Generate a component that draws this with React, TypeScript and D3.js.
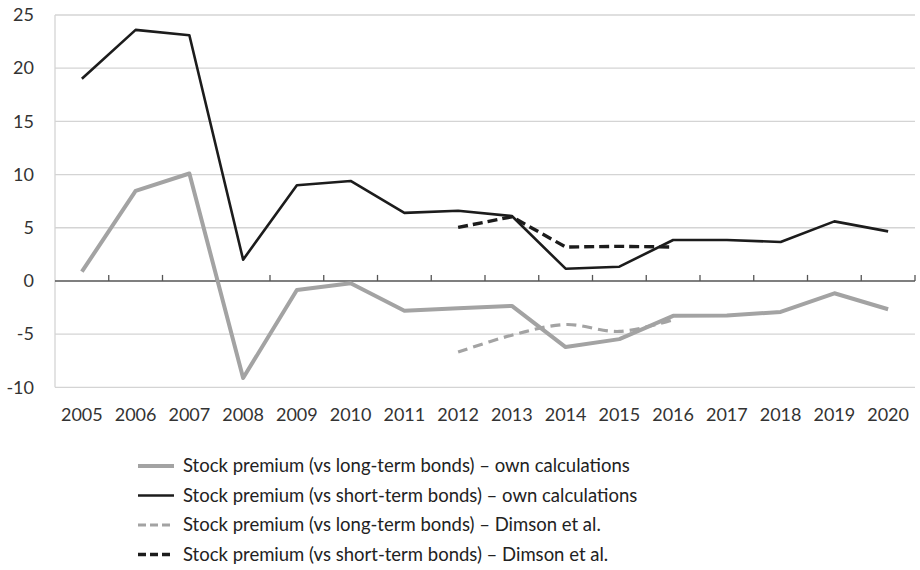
import React, { useEffect, useRef } from "react";
import * as d3 from "d3";

const years = ["2005","2006","2007","2008","2009","2010","2011","2012","2013","2014","2015","2016","2017","2018","2019","2020"];
const longOwn = [0.87, 8.47, 10.1, -9.13, -0.85, -0.22, -2.81, -2.56, -2.35, -6.22, -5.47, -3.28, -3.25, -2.91, -1.16, -2.66];
const shortOwn = [19.0, 23.6, 23.1, 2.0, 9.0, 9.4, 6.4, 6.6, 6.1, 1.15, 1.34, 3.85, 3.85, 3.66, 5.6, 4.66];
const dimsonYears = ["2012","2013","2014","2015","2016"];
const longDimson = [-6.69, -5.1, -4.1, -4.75, -3.66];
const shortDimson = [5.03, 6.03, 3.19, 3.25, 3.19];
const yTicks = [25, 20, 15, 10, 5, 0, -5, -10];
const legendLabels = [
  "Stock premium (vs long-term bonds) – own calculations",
  "Stock premium (vs short-term bonds) – own calculations",
  "Stock premium (vs long-term bonds) – Dimson et al.",
  "Stock premium (vs short-term bonds) – Dimson et al.",
];

const FONT = "Lato, 'Noto Sans', sans-serif";

export default function App() {
  const ref = useRef<SVGSVGElement>(null);
  useEffect(() => {
    const svg = d3.select(ref.current);
    svg.selectAll("*").remove();
    const left = 55, right = 915, top = 15, bottom = 387.3;
    const x = d3.scaleBand<string>().domain(years).range([left, right]).padding(0);
    const y = d3.scaleLinear().domain([-10, 25]).range([bottom, top]);
    const cx = (yr: string) => (x(yr) as number) + x.bandwidth() / 2;

    // gridlines
    svg.append("g").selectAll("line").data(yTicks.filter(t => t !== 0)).join("line")
      .attr("x1", left).attr("x2", right)
      .attr("y1", d => y(d)).attr("y2", d => y(d))
      .attr("stroke", "#d4d4d4").attr("stroke-width", 1.3);
    // left axis line
    svg.append("line").attr("x1", left).attr("x2", left).attr("y1", top).attr("y2", bottom)
      .attr("stroke", "#d4d4d4").attr("stroke-width", 1.3);
    // zero axis
    svg.append("line").attr("x1", left).attr("x2", right).attr("y1", y(0)).attr("y2", y(0))
      .attr("stroke", "#555").attr("stroke-width", 1.4);
    const bounds = years.map(yr => x(yr) as number).concat([right]);
    svg.append("g").selectAll("line").data(bounds.slice(1)).join("line")
      .attr("x1", d => d).attr("x2", d => d)
      .attr("y1", y(0)).attr("y2", y(0) - 6)
      .attr("stroke", "#555").attr("stroke-width", 1.3);

    // y labels
    svg.append("g").selectAll("text").data(yTicks).join("text")
      .attr("x", 34).attr("y", d => y(d)).attr("dy", "0.35em")
      .attr("text-anchor", "end").attr("font-family", FONT).attr("font-size", 18)
      .attr("fill", "#333").text(d => String(d));
    // x labels
    svg.append("g").selectAll("text").data(years).join("text")
      .attr("x", d => cx(d)).attr("y", 415).attr("dy", "0.35em")
      .attr("text-anchor", "middle").attr("font-family", FONT).attr("font-size", 18)
      .attr("fill", "#333").text(d => d);

    const line = d3.line<[string, number]>().x(d => cx(d[0])).y(d => y(d[1]));
    const smooth = d3.line<[string, number]>().x(d => cx(d[0])).y(d => y(d[1])).curve(d3.curveCatmullRom.alpha(0.5));

    const series = [
      { data: years.map((yr, i) => [yr, longOwn[i]] as [string, number]), color: "#a3a3a3", w: 4, dash: null as string | null, gen: line },
      { data: years.map((yr, i) => [yr, shortOwn[i]] as [string, number]), color: "#1c1c1c", w: 2.6, dash: null, gen: line },
      { data: dimsonYears.map((yr, i) => [yr, longDimson[i]] as [string, number]), color: "#a3a3a3", w: 3.2, dash: "10,6", gen: smooth },
      { data: dimsonYears.map((yr, i) => [yr, shortDimson[i]] as [string, number]), color: "#1c1c1c", w: 3.4, dash: "10,5", gen: line },
    ];
    series.forEach(s => {
      const p = svg.append("path").attr("d", s.gen(s.data) as string)
        .attr("fill", "none").attr("stroke", s.color).attr("stroke-width", s.w)
        .attr("stroke-linejoin", "round");
      if (s.dash) p.attr("stroke-dasharray", s.dash);
    });

    // legend
    const ly = [466, 495.5, 525, 554.5];
    series.forEach((s, i) => {
      const g = svg.append("g");
      const l = g.append("line").attr("x1", 138).attr("x2", 174).attr("y1", ly[i]).attr("y2", ly[i])
        .attr("stroke", s.color).attr("stroke-width", s.w);
      if (s.dash) l.attr("stroke-dasharray", "8,4");
      g.append("text").attr("x", 183).attr("y", ly[i]).attr("dy", "0.35em")
        .attr("font-family", FONT).attr("font-size", 18.5).attr("fill", "#222").text(legendLabels[i]);
    });
  }, []);
  return (
    <svg ref={ref} width={920} height={570} style={{ position: "absolute", left: 0, top: 0, background: "#fff" }} />
  );
}
